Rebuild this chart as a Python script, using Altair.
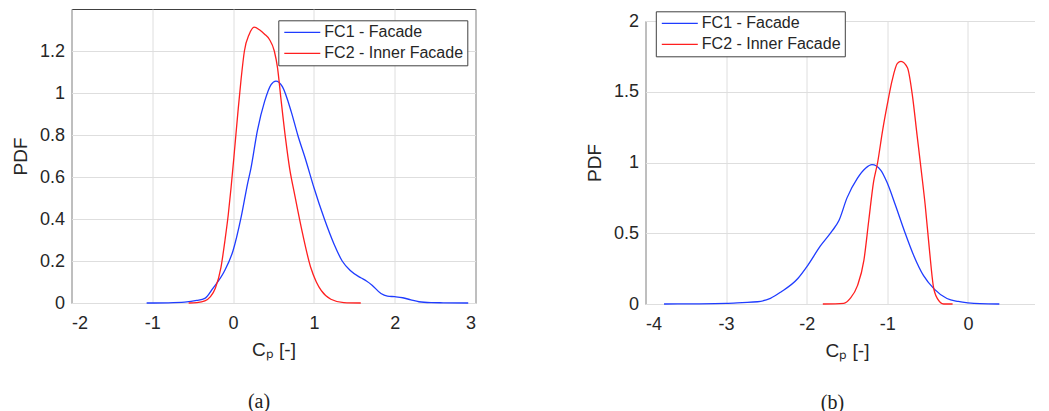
import altair as alt
import pandas as pd

LABEL_FC1 = "FC1 - Facade"
LABEL_FC2 = "FC2 - Inner Facade"
SERIES = [LABEL_FC1, LABEL_FC2]
COLORS = ["#1f3cff", "#ff1f1f"]

# ---- panel (a) ----
a_fc1_cp = [-1.07, -0.8, -0.6, -0.45, -0.35, -0.25, -0.11, 0.0, 0.1, 0.18, 0.22, 0.30, 0.39, 0.47, 0.53,
            0.61, 0.72, 0.80, 0.90, 1.0, 1.13, 1.25, 1.35, 1.45, 1.58, 1.65, 1.72, 1.83, 1.91, 2.0, 2.1,
            2.2, 2.3, 2.45, 2.6, 2.91]
a_fc1_pdf = [0.0, 0.001, 0.004, 0.012, 0.022, 0.07, 0.15, 0.25, 0.41, 0.57, 0.64, 0.82, 0.96, 1.04, 1.057,
             1.03, 0.91, 0.80, 0.68, 0.55, 0.40, 0.28, 0.20, 0.155, 0.12, 0.105, 0.085, 0.045, 0.033, 0.03,
             0.025, 0.015, 0.006, 0.002, 0.001, 0.0]
a_fc2_cp = [-0.55, -0.45, -0.35, -0.28, -0.22, -0.15, -0.10, -0.06, -0.025, 0.016, 0.06, 0.10, 0.14, 0.20,
            0.26, 0.33, 0.39, 0.45, 0.51, 0.55, 0.59, 0.65, 0.70, 0.76, 0.86, 0.96, 1.03, 1.09, 1.21, 1.37, 1.58]
a_fc2_pdf = [0.0, 0.002, 0.01, 0.03, 0.07, 0.17, 0.30, 0.42, 0.55, 0.72, 0.91, 1.07, 1.20, 1.28, 1.314,
             1.30, 1.28, 1.255, 1.20, 1.12, 0.98, 0.78, 0.64, 0.52, 0.33, 0.17, 0.10, 0.06, 0.018, 0.002, 0.0]
a_x_ticks = [-2, -1, 0, 1, 2, 3]
a_y_ticks = [0, 0.2, 0.4, 0.6, 0.8, 1, 1.2]

# ---- panel (b) ----
b_fc1_cp = [-3.77, -3.4, -3.0, -2.8, -2.61, -2.45, -2.32, -2.11, -1.99, -1.83, -1.68, -1.60, -1.50, -1.37,
            -1.27, -1.19, -1.08, -1.0, -0.90, -0.79, -0.67, -0.55, -0.42, -0.26, -0.12, 0.0, 0.15, 0.39]
b_fc1_pdf = [0.0, 0.001, 0.004, 0.01, 0.016, 0.04, 0.085, 0.18, 0.27, 0.41, 0.52, 0.59, 0.75, 0.89,
             0.96, 0.985, 0.945, 0.855, 0.70, 0.52, 0.34, 0.20, 0.107, 0.039, 0.018, 0.008, 0.002, 0.0]
b_fc2_cp = [-1.80, -1.54, -1.46, -1.37, -1.29, -1.23, -1.17, -1.12, -1.06, -1.0, -0.94, -0.875, -0.83,
            -0.75, -0.69, -0.63, -0.58, -0.53, -0.48, -0.43, -0.38, -0.30, -0.19]
b_fc2_pdf = [0.0, 0.005, 0.04, 0.13, 0.31, 0.59, 0.865, 1.0, 1.22, 1.41, 1.58, 1.70, 1.715,
             1.67, 1.48, 1.19, 0.95, 0.70, 0.40, 0.13, 0.04, 0.0, 0.0]
b_x_ticks = [-4, -3, -2, -1, 0, 1]
b_y_ticks = [0, 0.5, 1, 1.5, 2]


def table(c1, p1, c2, p2):
    return pd.DataFrame({
        "cp": c1 + c2,
        "pdf": p1 + p2,
        "series": [LABEL_FC1] * len(c1) + [LABEL_FC2] * len(c2),
    })


def panel(df, xdom, xticks, ydom, yticks, leg_x, leg_y, sub, width, height):
    return alt.Chart(df).mark_line(strokeWidth=1.3, interpolate="monotone").encode(
        x=alt.X("cp:Q",
                scale=alt.Scale(domain=xdom, nice=False, zero=False),
                axis=alt.Axis(values=xticks, labelExpr="'' + datum.value", title="Cₚ [-]")),
        y=alt.Y("pdf:Q",
                scale=alt.Scale(domain=ydom, nice=False, zero=False),
                axis=alt.Axis(values=yticks, labelExpr="'' + datum.value", title="PDF")),
        color=alt.Color("series:N",
                        scale=alt.Scale(domain=SERIES, range=COLORS),
                        legend=alt.Legend(orient="none", legendX=leg_x, legendY=leg_y, title=None,
                                          direction="vertical", fillColor="white",
                                          strokeColor="#404040", padding=4,
                                          symbolType="M-1,0H5", symbolSize=144,
                                          symbolStrokeWidth=1.3, labelOffset=26,
                                          rowPadding=5, labelFont="Liberation Sans",
                                          labelFontSize=16, labelColor="#262626")),
    ).properties(
        width=width, height=height,
        title=alt.TitleParams(sub, orient="bottom", font="Liberation Serif", fontSize=20,
                              fontWeight="normal", color="#222222", dx=-14.5, offset=33),
    )


left = panel(table(a_fc1_cp, a_fc1_pdf, a_fc2_cp, a_fc2_pdf), [-2, 3], a_x_ticks, [0, 1.4], a_y_ticks,
             206.8, 11.3, "(a)", 404, 294)
right = panel(table(b_fc1_cp, b_fc1_pdf, b_fc2_cp, b_fc2_pdf), [-4, 1], b_x_ticks, [0, 2], b_y_ticks,
              10.3, 2.3, "(b)", 403, 283)

# invisible spacer that lowers panel (b) a little, as in the original figure
spacer = alt.Chart(pd.DataFrame({"s": [0]})).mark_point(opacity=0, size=0, strokeWidth=0).encode(
    x=alt.value(200), y=alt.value(0)
).properties(width=403, height=1, view=alt.ViewBackground(stroke="transparent"))

right_col = alt.vconcat(spacer, right, spacing=0)

chart = alt.hconcat(left, right_col, spacing=108).resolve_scale(
    color="independent"
).resolve_legend(color="independent").properties(
    padding={"left": 2.5, "top": 0, "right": -15, "bottom": 0}
).configure_view(
    stroke="#404040", strokeWidth=1
).configure_axis(
    labelFont="Liberation Sans", labelFontSize=18, labelColor="#262626",
    titleFont="Liberation Sans", titleFontSize=19, titleFontWeight="normal", titleColor="#262626",
    gridColor="#dedede", gridWidth=1, domain=False, ticks=False,
).configure_axisX(
    labelPadding=11, titlePadding=8,
).configure_axisY(
    labelPadding=7, titlePadding=9,
)

chart.save("out.html", embed_options={"renderer": "svg", "actions": False})
